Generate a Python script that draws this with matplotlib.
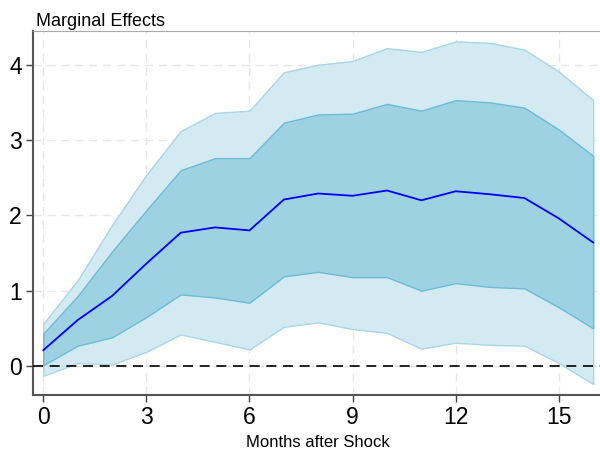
import numpy as np
import matplotlib
matplotlib.use('Agg')
import matplotlib.pyplot as plt

matplotlib.rcParams['font.family'] = ['Liberation Sans', 'DejaVu Sans']

months = np.arange(0, 17)
effect = [0.21, 0.61, 0.93, 1.36, 1.77, 1.84, 1.80, 2.21, 2.29, 2.26, 2.33, 2.20, 2.32, 2.28, 2.23, 1.96, 1.64]
inner_hi = [0.43, 0.93, 1.52, 2.07, 2.60, 2.76, 2.76, 3.23, 3.34, 3.35, 3.48, 3.39, 3.53, 3.50, 3.43, 3.14, 2.79]
inner_lo = [0.01, 0.27, 0.38, 0.65, 0.95, 0.91, 0.84, 1.19, 1.25, 1.18, 1.18, 1.00, 1.10, 1.05, 1.03, 0.78, 0.50]
outer_hi = [0.56, 1.14, 1.87, 2.54, 3.12, 3.36, 3.39, 3.90, 4.00, 4.05, 4.22, 4.17, 4.31, 4.29, 4.20, 3.91, 3.53]
outer_lo = [-0.13, 0.04, 0.02, 0.19, 0.42, 0.32, 0.22, 0.52, 0.58, 0.49, 0.44, 0.23, 0.31, 0.28, 0.27, 0.04, -0.24]
x_ticks = [0, 3, 6, 9, 12, 15]
y_ticks = [0, 1, 2, 3, 4]

fig = plt.figure(figsize=(6.0, 4.53), dpi=100)
ax = fig.add_axes([0.055, 0.128, 0.945, 0.804])

ax.fill_between(months, outer_lo, outer_hi, color='#d4eaf2', edgecolor='#a9d6e6', linewidth=1.0, zorder=2)
ax.fill_between(months, inner_lo, inner_hi, color='#9ed2e3', edgecolor='#6cbcd6', linewidth=1.0, zorder=3)
ax.plot(months, effect, color='#0000ff', linewidth=1.3, zorder=4)
ax.axhline(0, color='black', linestyle=(0, (6, 4)), linewidth=1.2, zorder=5)

ax.set_xlim(-0.3, 16.2)
ax.set_ylim(-0.385, 4.45)
ax.set_xticks(x_ticks)
ax.set_yticks(y_ticks)
ax.tick_params(axis='both', labelsize=16.5, length=5, width=1.0, color='#444444', direction='out', pad=3)
ax.grid(True, color='#e6e6e6', linestyle=(0, (6, 4)), linewidth=1.0, zorder=0)
ax.set_axisbelow(True)

ax.spines['right'].set_visible(False)
ax.spines['top'].set_color('#aaaaaa')
ax.spines['left'].set_color('#555555')
ax.spines['bottom'].set_color('#555555')
ax.spines['left'].set_linewidth(1.5)
ax.spines['bottom'].set_linewidth(1.5)

fig.text(36 / 600, 1 - 26 / 453, 'Marginal Effects', ha='left', va='baseline', fontsize=13)
fig.text(318 / 600, 1 - 447 / 453, 'Months after Shock', ha='center', va='baseline', fontsize=12)

fig.savefig('out.png', dpi=100)
